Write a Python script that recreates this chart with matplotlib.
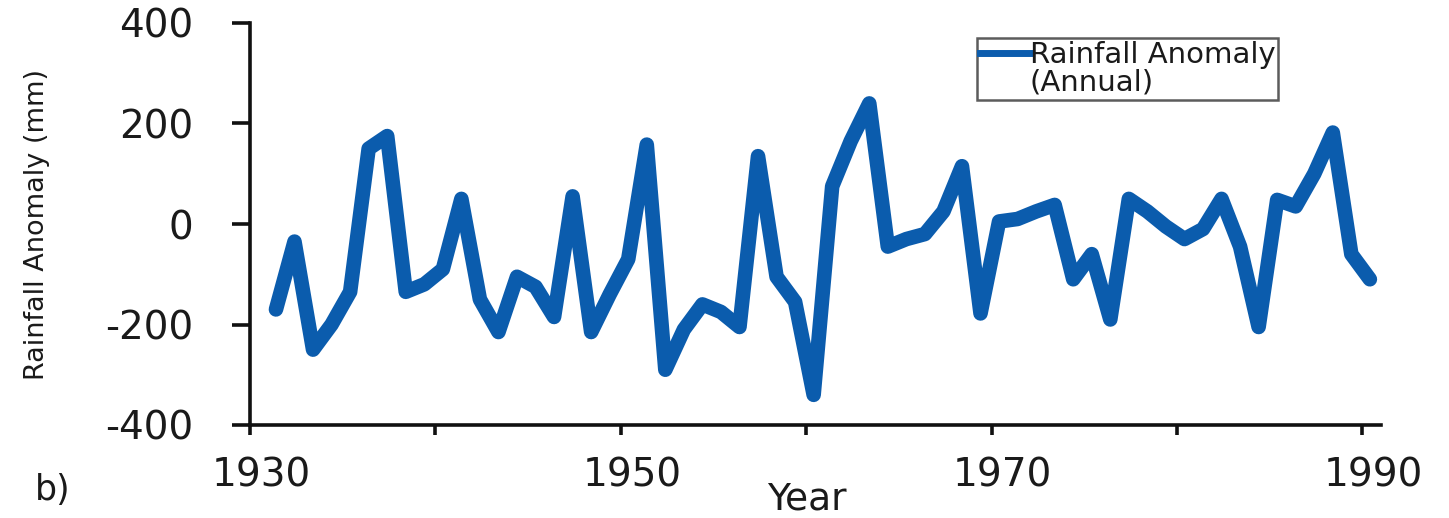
import numpy as np
import matplotlib
matplotlib.use("Agg")
import matplotlib.pyplot as plt
from matplotlib.lines import Line2D
from matplotlib.transforms import ScaledTranslation

plt.rcParams['font.family'] = ['DejaVu Sans']
plt.rcParams['axes.unicode_minus'] = False

years = list(range(1931, 1991))
anomaly = [-170, -35, -250, -200, -135, 150, 175, -135, -120, -90,
           50, -150, -215, -105, -125, -185, 55, -215, -140, -70,
           158, -290, -210, -160, -175, -205, 135, -105, -155, -340,
           75, 165, 240, -45, -30, -20, 25, 115, -178, 5,
           10, 25, 38, -110, -60, -190, 50, 25, -5, -30,
           -10, 50, -45, -205, 48, 35, 100, 182, -60, -110]
x_ticks = [1930, 1940, 1950, 1960, 1970, 1980, 1990]
x_tick_labels = ['1930', '', '1950', '', '1970', '', '1990']
y_ticks = [-400, -200, 0, 200, 400]
y_tick_labels = ['-400', '-200', '0', '200', '400']

W, H = 1449, 518
fig = plt.figure(figsize=(W / 100, H / 100), dpi=100)
fig.patch.set_facecolor('white')
ax = fig.add_axes([250 / W, (H - 425) / H, 1131 / W, 402 / H])

line_color = '#0b5cad'
x = np.array(years) + 0.4
ax.plot(x, anomaly, color=line_color, lw=10.5, solid_joinstyle='round',
        solid_capstyle='round', clip_on=False)

ax.set_xlim(1930, 1991)
ax.set_ylim(-400, 400)

for s in ['top', 'right']:
    ax.spines[s].set_visible(False)
for s in ['left', 'bottom']:
    ax.spines[s].set_linewidth(2.6)
    ax.spines[s].set_color('#111111')

ax.set_xticks(x_ticks)
ax.set_xticklabels(x_tick_labels, fontsize=28, color='#1a1a1a')
ax.set_yticks(y_ticks)
ax.set_yticklabels(y_tick_labels, fontsize=28, color='#1a1a1a')
ax.tick_params(axis='y', direction='out', length=13, width=2.6, pad=28, color='#111111')
ax.tick_params(axis='x', direction='out', length=7, width=2.6, pad=16, color='#111111')

offset = ScaledTranslation(11 / 100, 0, fig.dpi_scale_trans)
for lab in ax.get_xticklabels():
    lab.set_transform(lab.get_transform() + offset)

fig.text(37 / W, 1 - 224 / H, 'Rainfall Anomaly (mm)', rotation=90,
         ha='center', va='center', fontsize=19.5, color='#1a1a1a')
fig.text(807 / W, 1 - 499 / H, 'Year', ha='center', va='center',
         fontsize=27, color='#1a1a1a')
fig.text(35 / W, 1 - 500 / H, 'b)', ha='left', va='baseline',
         fontsize=25, color='#1a1a1a')

h1 = Line2D([], [], color=line_color, lw=5)
h2 = Line2D([], [], color='none', lw=0)
leg = ax.legend([h1, h2], ['Rainfall Anomaly', '(Annual)'],
                loc='upper left',
                bbox_to_anchor=(977 / W, 1 - 38 / H),
                bbox_transform=fig.transFigure,
                fontsize=21, frameon=True, fancybox=False,
                borderaxespad=0, borderpad=0.1, handlelength=1.7,
                handletextpad=0.0, labelspacing=0.0)
leg.get_frame().set_edgecolor('#333333')
leg.get_frame().set_linewidth(1.8)
for t in leg.get_texts():
    t.set_color('#1a1a1a')

fig.savefig('out.png', dpi=100, facecolor='white')
